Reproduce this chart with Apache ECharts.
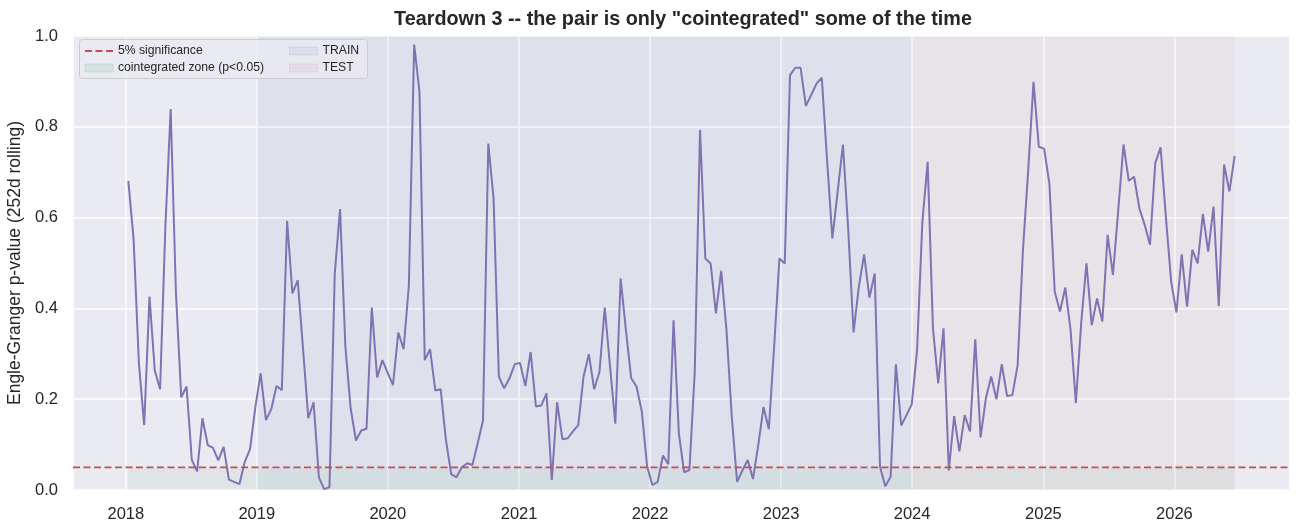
<!DOCTYPE html>
<html>
<head>
<meta charset="utf-8">
<script src="https://cdn.jsdelivr.net/npm/echarts@6/dist/echarts.min.js"></script>
<style>
  html, body { margin: 0; padding: 0; background: #fff; }
  #chart { width: 1302px; height: 532px; }
</style>
</head>
<body>
<div id="chart"></div>
<script>
// rolling Engle-Granger p-value, one point every ~10 trading days
const startDate = "2018-01-08";
const endDate = "2026-06-18";
const pValues = [
  0.681, 0.552, 0.279, 0.143, 0.426, 0.263, 0.222, 0.580, 0.839, 0.433,
  0.204, 0.228, 0.066, 0.041, 0.158, 0.099, 0.093, 0.065, 0.095, 0.023,
  0.018, 0.013, 0.062, 0.090, 0.183, 0.257, 0.154, 0.178, 0.229, 0.220,
  0.593,
  0.433, 0.462, 0.312, 0.158, 0.193, 0.028, 0.002, 0.006, 0.477, 0.619,
  0.316, 0.180, 0.109, 0.131, 0.135, 0.402, 0.248, 0.286, 0.258, 0.231,
  0.347, 0.310, 0.451, 0.981, 0.877, 0.286, 0.310, 0.219, 0.222, 0.110,
  0.035, 0.028, 0.050, 0.059, 0.055, 0.103, 0.153, 0.763, 0.642, 0.250,
  0.224, 0.246, 0.277, 0.280, 0.229, 0.304, 0.184, 0.186, 0.213, 0.022,
  0.193, 0.112, 0.114, 0.129, 0.143, 0.250, 0.299, 0.222, 0.260, 0.402,
  0.272, 0.146, 0.466, 0.352, 0.246, 0.228, 0.173, 0.052, 0.011, 0.018,
  0.076, 0.057, 0.374, 0.125, 0.039, 0.044, 0.260,
  0.793, 0.510, 0.499, 0.389, 0.483, 0.352, 0.161, 0.018, 0.043, 0.066,
  0.024, 0.099, 0.183, 0.134, 0.316, 0.510, 0.499, 0.914, 0.930, 0.930,
  0.846, 0.870, 0.895, 0.908, 0.727, 0.554, 0.657, 0.761, 0.573, 0.347,
  0.448, 0.519, 0.424, 0.477, 0.051, 0.008, 0.029, 0.277, 0.142, 0.165,
  0.189, 0.308,
  0.590, 0.723, 0.356, 0.235, 0.356, 0.043, 0.163, 0.085, 0.165, 0.129,
  0.332, 0.116, 0.202, 0.250, 0.200, 0.277, 0.207, 0.209, 0.275, 0.528,
  0.705, 0.899, 0.756, 0.752, 0.675, 0.437, 0.393, 0.446, 0.352, 0.192,
  0.367, 0.499, 0.363, 0.422, 0.371, 0.562, 0.474, 0.616, 0.761, 0.681,
  0.690, 0.620, 0.584, 0.540, 0.720, 0.755, 0.602, 0.459, 0.391, 0.519,
  0.404, 0.529, 0.499, 0.608, 0.525, 0.624, 0.405, 0.717, 0.658, 0.736
];
const significance = 0.05;
const trainRange = ["2019-01-01", "2024-01-01"];
const testRange = ["2024-01-01", endDate];
const yTicks = [0, 0.2, 0.4, 0.6, 0.8, 1.0];

// evenly spaced sample dates between first and last window
const t0 = Date.parse(startDate);
const t1 = Date.parse(endDate);
const step = (t1 - t0) / (pValues.length - 1);
const series = pValues.map((v, i) => [t0 + i * step, v]);
const pad = (t1 - t0) * 0.05; // matplotlib default margin
const xMin = t0 - pad;
const xMax = t1 + pad;

const FONT = "'Liberation Sans', Arial, sans-serif";
const TXT = "#262626";

const chart = echarts.init(document.getElementById("chart"));
chart.setOption({
  animation: false,
  backgroundColor: "#ffffff",
  title: {
    text: 'Teardown 3 -- the pair is only "cointegrated" some of the time',
    left: 678, top: 5, textAlign: "center",
    textStyle: { fontFamily: FONT, fontSize: 19.8, fontWeight: "bold", color: TXT }
  },
  grid: {
    left: 73, right: 12, top: 36, bottom: 42, outerBoundsMode: "none",
    show: true, backgroundColor: "#EAEAF2", borderWidth: 0
  },
  graphic: [{
    type: "rect", left: 79, top: 39, z: 50,
    shape: { width: 288, height: 39, r: 3 },
    style: { fill: "rgba(234,234,242,0.8)", stroke: "#cccccc", lineWidth: 1 }
  }],
  legend: [
    {
      left: 79, top: 40, orient: "vertical", itemGap: 5, itemWidth: 28, itemHeight: 8, z: 60,
      textStyle: { fontFamily: FONT, fontSize: 12.2, color: TXT },
      data: [
        { name: "5% significance", itemStyle: { color: "rgba(0,0,0,0)", borderWidth: 0 } },
        { name: "cointegrated zone (p<0.05)", icon: "rect",
          itemStyle: { color: "rgba(85,168,104,0.12)", borderColor: "rgba(85,168,104,0.2)", borderWidth: 1 } }
      ]
    },
    {
      left: 284, top: 40, orient: "vertical", itemGap: 5, itemWidth: 28, itemHeight: 8, z: 60,
      textStyle: { fontFamily: FONT, fontSize: 12.2, color: TXT },
      data: [
        { name: "TRAIN", icon: "rect",
          itemStyle: { color: "rgba(76,114,176,0.08)", borderColor: "rgba(76,114,176,0.12)", borderWidth: 1 } },
        { name: "TEST", icon: "rect",
          itemStyle: { color: "rgba(196,78,82,0.07)", borderColor: "rgba(196,78,82,0.1)", borderWidth: 1 } }
      ]
    }
  ],
  xAxis: {
    type: "time", min: xMin, max: xMax,
    minInterval: 365 * 24 * 3600 * 1000, maxInterval: 366 * 24 * 3600 * 1000,
    axisLine: { show: false }, axisTick: { show: false },
    axisLabel: { formatter: "{yyyy}", fontFamily: FONT, fontSize: 16.5, color: TXT, margin: 16, showMinLabel: false, showMaxLabel: false },
    splitLine: { show: true, lineStyle: { color: "#ffffff", width: 1.5 } }
  },
  yAxis: {
    type: "value", min: yTicks[0], max: yTicks[yTicks.length - 1], interval: 0.2,
    name: "Engle-Granger p-value (252d rolling)", nameLocation: "middle", nameGap: 38,
    nameTextStyle: { fontFamily: FONT, fontSize: 17.5, color: TXT },
    axisLine: { show: false }, axisTick: { show: false },
    axisLabel: { formatter: v => v.toFixed(1), fontFamily: FONT, fontSize: 16.5, color: TXT, margin: 15 },
    splitLine: { show: true, lineStyle: { color: "#ffffff", width: 1.5 } }
  },
  series: [
    {
      name: "TRAIN", type: "line", data: [], z: 1,
      markArea: { silent: true, itemStyle: { color: "rgba(76,114,176,0.07)" },
        data: [[{ xAxis: Date.parse(trainRange[0]) }, { xAxis: Date.parse(trainRange[1]) }]] }
    },
    {
      name: "TEST", type: "line", data: [], z: 1,
      markArea: { silent: true, itemStyle: { color: "rgba(196,78,82,0.05)" },
        data: [[{ xAxis: Date.parse(testRange[0]) }, { xAxis: Date.parse(testRange[1]) }]] }
    },
    {
      name: "cointegrated zone (p<0.05)", type: "line", z: 2, symbol: "none", silent: true,
      data: [[t0, significance], [t1, significance]],
      lineStyle: { width: 0 },
      areaStyle: { color: "rgba(85,168,104,0.1)", origin: "start" }
    },
    {
      name: "p-value", type: "line", z: 4, symbol: "none",
      data: series,
      lineStyle: { color: "#8172B3", width: 2 }
    },
    {
      name: "5% significance", type: "line", z: 5, symbol: "none", silent: true,
      data: [[xMin, significance], [xMax, significance]],
      lineStyle: { color: "#C44E52", width: 1.8, type: [7, 3.5] },
      itemStyle: { color: "#C44E52" }
    }
  ]
});
</script>
</body>
</html>
